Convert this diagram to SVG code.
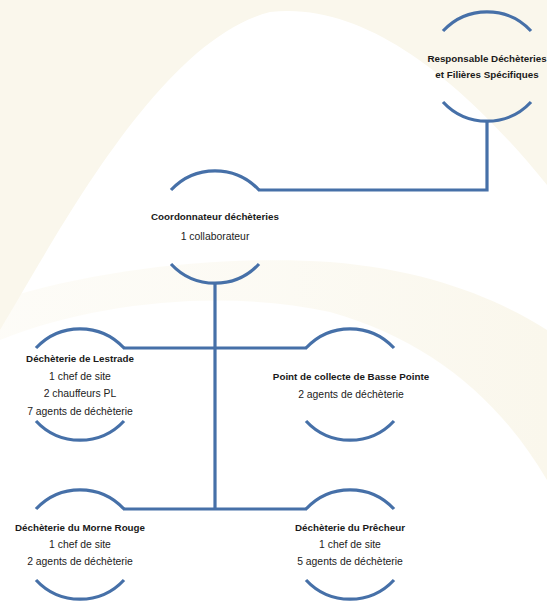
<svg xmlns="http://www.w3.org/2000/svg" width="547" height="601" viewBox="0 0 547 601">
  <defs>
    <style>
      .arc { fill: none; stroke: #4670a8; stroke-width: 3.2; stroke-linecap: butt; }
      .conn { fill: none; stroke: #4670a8; stroke-width: 3.2; stroke-linejoin: miter; }
      .t { font-family: "Liberation Sans", Arial, sans-serif; fill: #1a1a1a; text-anchor: middle; }
      .b { font-weight: bold; font-size: 9.8px; }
      .n { font-size: 10.4px; fill: #222222; }
    </style>
    <linearGradient id="fadeR" x1="0" y1="0" x2="1" y2="0">
      <stop offset="0" stop-color="#faf7ec" stop-opacity="0.4"/>
      <stop offset="0.5" stop-color="#faf7ec" stop-opacity="0.6"/>
      <stop offset="1" stop-color="#faf7ec" stop-opacity="1"/>
    </linearGradient>
  </defs>

  <!-- background -->
  <rect width="547" height="601" fill="#faf7ec"/>
  <path d="M0,330 C60,230 160,40 270,12 C370,0 470,90 547,185 L547,601 L0,601 Z" fill="#ffffff"/>
  <path d="M0,300 C100,268 230,255 330,262 C430,270 500,300 547,330 L547,480 C500,400 430,340 330,312 C230,290 100,300 0,340 Z" fill="url(#fadeR)"/>

  <!-- connectors -->
  <g id="connectors">
    <path class="conn" d="M258,190 H487 V121"/>
    <path class="conn" d="M215,283 V509"/>
    <path class="conn" d="M123,348 H307"/>
    <path class="conn" d="M123,509 H307"/>
  </g>

  <g id="responsable">
    <path class="arc" d="M443,31 A60,60 0 0 1 531,31"/>
    <path class="arc" d="M443,102 A60,60 0 0 0 531,102"/>
    <text class="t b" x="487" y="62">Responsable Déchèteries</text>
    <text class="t b" x="487" y="78">et Filières Spécifiques</text>
  </g>

  <g id="coordonnateur">
    <path class="arc" d="M171,190 A60,60 0 0 1 259,190"/>
    <path class="arc" d="M171,264 A60,60 0 0 0 259,264"/>
    <text class="t b" x="215" y="220">Coordonnateur déchèteries</text>
    <text class="t n" x="215" y="239.5">1 collaborateur</text>
  </g>

  <g id="lestrade">
    <path class="arc" d="M36,348 A60,60 0 0 1 124,348"/>
    <path class="arc" d="M36,421 A60,60 0 0 0 124,421"/>
    <text class="t b" x="80" y="362">Déchèterie de Lestrade</text>
    <text class="t n" x="80" y="380">1 chef de site</text>
    <text class="t n" x="80" y="397">2 chauffeurs PL</text>
    <text class="t n" x="80" y="414.5">7 agents de déchèterie</text>
  </g>

  <g id="basse-pointe">
    <path class="arc" d="M306,348 A60,60 0 0 1 394,348"/>
    <path class="arc" d="M306,421 A60,60 0 0 0 394,421"/>
    <text class="t b" x="351" y="380">Point de collecte de Basse Pointe</text>
    <text class="t n" x="351" y="398">2 agents de déchèterie</text>
  </g>

  <g id="morne-rouge">
    <path class="arc" d="M36,509 A60,60 0 0 1 124,509"/>
    <path class="arc" d="M36,580 A60,60 0 0 0 124,580"/>
    <text class="t b" x="80" y="531">Déchèterie du Morne Rouge</text>
    <text class="t n" x="80" y="548">1 chef de site</text>
    <text class="t n" x="80" y="565">2 agents de déchèterie</text>
  </g>

  <g id="precheur">
    <path class="arc" d="M306,509 A60,60 0 0 1 394,509"/>
    <path class="arc" d="M306,580 A60,60 0 0 0 394,580"/>
    <text class="t b" x="350" y="531">Déchèterie du Prêcheur</text>
    <text class="t n" x="350" y="548">1 chef de site</text>
    <text class="t n" x="350" y="565">5 agents de déchèterie</text>
  </g>
</svg>
